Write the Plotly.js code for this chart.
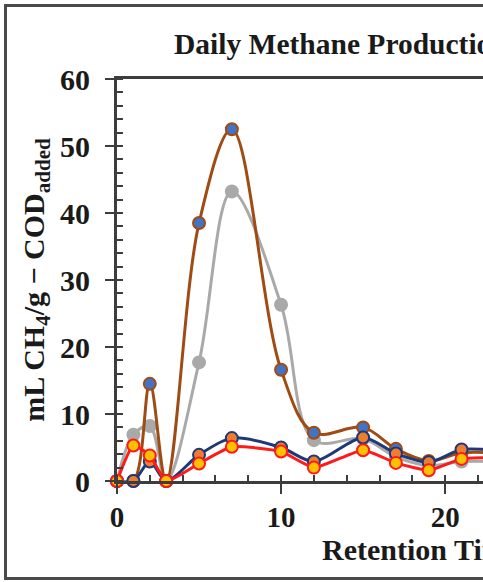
<!DOCTYPE html>
<html>
<head>
<meta charset="utf-8">
<script src="https://cdn.plot.ly/plotly-3.0.1.min.js"></script>
<style>
html,body{margin:0;padding:0;overflow:hidden;width:483px;height:582px;background:#fff;}
#chart{position:absolute;left:0;top:0;}
#frame{position:absolute;left:4px;top:4px;width:1000px;height:570px;border:3px solid #4a4a4a;pointer-events:none;}
</style>
</head>
<body>
<div id="chart"></div>
<div id="frame"></div>
<script>
// Retention time (days)
const days = [0, 1, 2, 3, 5, 7, 10, 12, 15, 17, 19, 21, 23];
// Daily methane production (mL CH4 / g COD added)
const seriesBrown = [0, 0, 14.5, 0, 38.5, 52.5, 16.6, 7.2, 8.0, 4.8, 3.0, 4.2, 4.2];
const seriesGray  = [0, 6.9, 8.2, 0, 17.7, 43.2, 26.3, 6.1, 6.3, 3.6, 2.3, 2.9, 2.9];
const seriesNavy  = [0, 0, 2.9, 0, 3.9, 6.4, 5.0, 2.9, 6.5, 4.1, 2.8, 4.7, 4.6];
const seriesRed   = [0, 5.3, 3.8, 0, 2.6, 5.1, 4.4, 2.0, 4.6, 2.7, 1.6, 3.3, 3.5];
const xTicks = [0, 10, 20, 30, 40];
const yTicks = [0, 10, 20, 30, 40, 50, 60];

const W = 831, H = 582;
const fontFam = 'Liberation Serif, Times New Roman, serif';
const axCol = '#3d3d3d';

function tr(y, name, lineCol, fill, edge, smooth){
  return {x: days, y: y, name: name, type: 'scatter', mode: 'lines+markers',
    line: {color: lineCol, width: 3, shape: 'spline', smoothing: smooth},
    marker: {size: 12, color: fill, line: {color: edge, width: 2}},
    cliponaxis: false};
}
const data = [
  tr(seriesGray, 'Series 2', '#A9A9A9', '#A9A9A9', '#A9A9A9', 1),
  tr(seriesBrown, 'Series 1', '#9E4C14', '#4472C4', '#9E4C14', 1),
  tr(seriesNavy, 'Series 3', '#1F3877', '#ED7D31', '#1F3877', 0.8),
  tr(seriesRed, 'Series 4', '#FF1A1A', '#FFC000', '#FF1A1A', 0.5)
];

const xr = [0, 42.3];
const yr = [0, 60];
const layout = {
  width: W, height: H,
  margin: {l: 117, r: 20, t: 79, b: 101},
  paper_bgcolor: '#fff', plot_bgcolor: '#fff',
  showlegend: false,
  font: {family: fontFam, color: '#1a1a1a'},
  title: {text: 'Daily Methane Production', xref: 'container', x: 174/W, xanchor: 'left',
          yref: 'container', y: 1 - 44/H, yanchor: 'middle',
          font: {family: fontFam, size: 29.5, weight: 'bold', color: '#1a1a1a'}},
  xaxis: {range: xr, tickvals: xTicks, ticktext: xTicks.map(String),
    ticks: 'outside', ticklen: 10, tickwidth: 2.5, tickcolor: axCol,
    showline: true, linecolor: axCol, linewidth: 3, mirror: true,
    showgrid: false, zeroline: false,
    tickfont: {family: fontFam, size: 29, weight: 'bold', color: '#1a1a1a'},
    ticklabelstandoff: -2,
    minor: {dtick: 2, ticks: 'inside', ticklen: 6, tickwidth: 2, tickcolor: axCol, showgrid: false},
    title: {text: 'Retention Time (days)', standoff: 0,
      font: {family: fontFam, size: 30, weight: 'bold', color: '#1a1a1a'}}},
  yaxis: {range: yr, tickvals: yTicks, ticktext: yTicks.map(String),
    ticks: 'outside', ticklen: 9, tickwidth: 2.5, tickcolor: axCol,
    showline: true, linecolor: axCol, linewidth: 3, mirror: true,
    showgrid: false, zeroline: false,
    tickfont: {family: fontFam, size: 30, weight: 'bold', color: '#1a1a1a'},
    ticklabelstandoff: 9,
    minor: {dtick: 2, ticks: 'inside', ticklen: 6, tickwidth: 2, tickcolor: axCol, showgrid: false},
    title: {text: 'mL CH<sub>4</sub>/g − COD<sub>added</sub>', standoff: 7,
      font: {family: fontFam, size: 30, weight: 'bold', color: '#1a1a1a'}}},
  xaxis2: {overlaying: 'x', anchor: 'y', range: xr, tickvals: xTicks, ticks: 'inside', ticklen: 10,
    tickwidth: 2.5, tickcolor: axCol, showticklabels: false, showline: false, showgrid: false, zeroline: false},
  yaxis2: {overlaying: 'y', anchor: 'x', side: 'left', range: yr, tickvals: yTicks, ticks: 'inside', ticklen: 9,
    tickwidth: 2.5, tickcolor: axCol, showticklabels: false, showline: false, showgrid: false, zeroline: false}
};
Plotly.newPlot('chart', data, layout, {staticPlot: true, displayModeBar: false});
</script>
</body>
</html>
